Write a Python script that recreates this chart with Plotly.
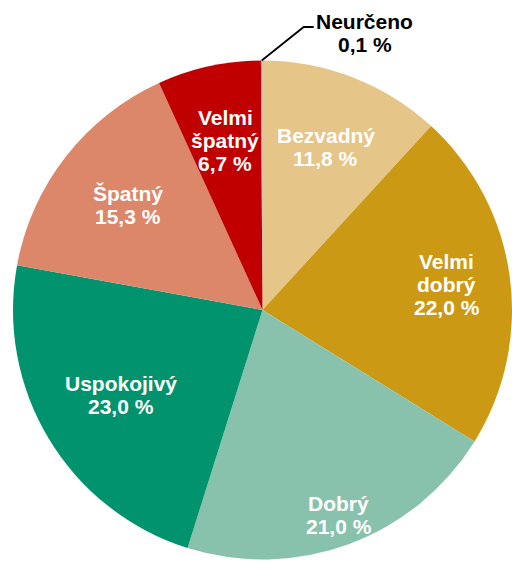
import math
import plotly.graph_objects as go

# ---- data ----
categories = ["Bezvadný", "Velmi dobrý", "Dobrý", "Uspokojivý", "Špatný", "Velmi špatný", "Neurčeno"]
values = [11.8, 22.0, 21.0, 23.0, 15.3, 6.7, 0.1]
name_lines = [["Bezvadný"], ["Velmi", "dobrý"], ["Dobrý"], ["Uspokojivý"], ["Špatný"],
              ["Velmi", "špatný"], ["Neurčeno"]]
value_texts = [f"{v:.1f}".replace(".", ",") + " %" for v in values]

# ---- style ----
colors = ["#E6C588", "#CC9914", "#88C2AD", "#00936E", "#DC866A", "#C00000", "#A6A6A6"]
label_radius = [0.70, 0.745, 0.878, 0.66, 0.684, 0.697, None]
W, H = 512, 563
PIE_LEFT, PIE_RIGHT, PIE_TOP, PIE_BOTTOM = 13, 512, 59.5, 560.5
FONT = "Liberation Sans"
FS = 21
GAP = 23

fig = go.Figure(go.Pie(
    labels=categories, values=values, sort=False, direction="clockwise", rotation=0,
    marker=dict(colors=colors, line=dict(width=0)),
    textinfo="none", hoverinfo="label+percent", showlegend=False,
    domain=dict(x=[PIE_LEFT / W, PIE_RIGHT / W], y=[1 - PIE_BOTTOM / H, 1 - PIE_TOP / H]),
))

# geometry of rendered pie
dw, dh = PIE_RIGHT - PIE_LEFT, PIE_BOTTOM - PIE_TOP
R = min(dw, dh) / 2
cx = (PIE_LEFT + PIE_RIGHT) / 2
cy = (PIE_TOP + PIE_BOTTOM) / 2

def px2paper(x, y):
    return x / W, 1 - y / H

total = sum(values)
annotations = []
shapes = []
cum = 0.0
for i, v in enumerate(values):
    mid = math.radians((cum + v / 2) / total * 360)
    cum += v
    lines = name_lines[i] + [value_texts[i]]
    if label_radius[i] is not None:
        r = label_radius[i] * R
        lx = cx + r * math.sin(mid)
        ly = cy - r * math.cos(mid)
        color = "white"
        gap = GAP
    else:
        # outside label with elbow leader line
        sx = cx + R * math.sin(mid)
        sy = cy - R * math.cos(mid)
        ex, ey = sx + 42, 27
        fx = ex + 10
        x0, y0 = px2paper(sx, sy)
        x1, y1 = px2paper(ex, ey)
        x2, y2 = px2paper(fx, ey)
        shapes.append(dict(type="path", xref="paper", yref="paper",
                           path=f"M {x0},{y0} L {x1},{y1} L {x2},{y2}",
                           line=dict(color="black", width=1.8)))
        lx, ly = fx + 51, 33
        color = "black"
        gap = 24
    n = len(lines)
    for j, t in enumerate(lines):
        yy = ly + (j - (n - 1) / 2) * gap
        ax, ay = px2paper(lx, yy)
        annotations.append(dict(x=ax, y=ay, xref="paper", yref="paper", text=t,
                                showarrow=False, xanchor="center", yanchor="middle",
                                font=dict(family=FONT, size=FS, color=color, weight="bold")))

fig.update_layout(
    width=W, height=H, margin=dict(l=0, r=0, t=0, b=0),
    paper_bgcolor="white", plot_bgcolor="white",
    annotations=annotations, shapes=shapes,
)
fig.write_html("out.html", config={"displayModeBar": False},
               post_script="document.body.style.margin='0';document.body.style.overflow='hidden';")
